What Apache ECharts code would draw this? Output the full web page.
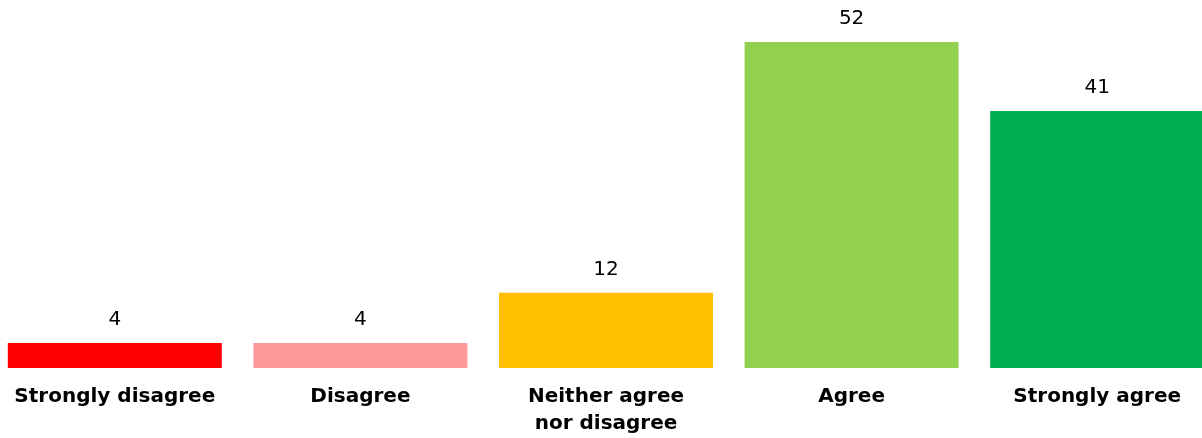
<!DOCTYPE html>
<html>
<head>
<meta charset="utf-8">
<script src="https://cdn.jsdelivr.net/npm/echarts@6/dist/echarts.min.js"></script>
<style>
html,body{margin:0;padding:0;background:#fff;overflow:hidden;width:1202px;height:438px;}
#chart{width:1228px;height:438px;margin-left:-8px;}
</style>
</head>
<body>
<div id="chart"></div>
<script>
const categories = ['Strongly disagree', 'Disagree', 'Neither agree\nnor disagree', 'Agree', 'Strongly agree'];
const values = [4, 4, 12, 52, 41];
const colors = ['#FF0000', '#FF9999', '#FFC000', '#92D050', '#00B050'];

const chart = echarts.init(document.getElementById('chart'), null, {renderer: 'canvas'});
chart.setOption({
  animation: false,
  backgroundColor: '#ffffff',
  grid: {left: 0, right: 0, top: 42, bottom: 70, containLabel: false},
  xAxis: {
    type: 'category',
    data: categories,
    axisLine: {show: false},
    axisTick: {show: false},
    axisLabel: {
      interval: 0,
      margin: 15,
      color: '#000',
      fontFamily: 'DejaVu Sans',
      fontWeight: 'bold',
      fontSize: 20,
      lineHeight: 27
    }
  },
  yAxis: {
    type: 'value',
    min: 0,
    max: 52,
    show: false,
    splitLine: {show: false}
  },
  series: [{
    type: 'bar',
    barWidth: 214,
    data: values.map((v, i) => ({value: v, itemStyle: {color: colors[i]}})),
    label: {
      show: true,
      position: 'top',
      distance: 13,
      color: '#000',
      fontFamily: 'DejaVu Sans',
      fontSize: 20
    }
  }]
});
</script>
</body>
</html>
